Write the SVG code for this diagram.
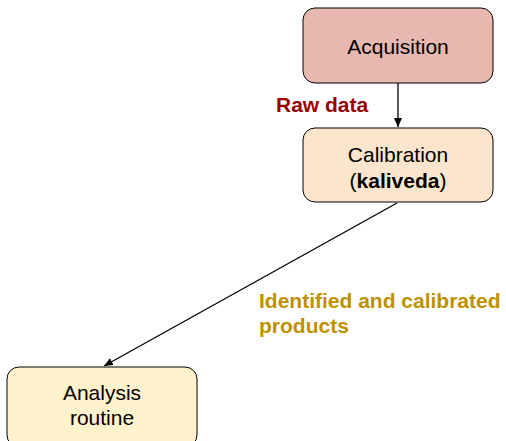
<svg xmlns="http://www.w3.org/2000/svg" width="506" height="441" viewBox="0 0 506 441">
<defs>
<marker id="ah" markerWidth="10" markerHeight="10" refX="9" refY="5" orient="auto" markerUnits="userSpaceOnUse">
<path d="M0,1 L9,5 L0,9 z" fill="#000"/>
</marker>
<style>
.box{stroke:#000;stroke-width:1}
.t{font-family:"Liberation Sans",Arial,sans-serif;font-size:21px;fill:#000;text-anchor:middle}
.lbl{font-family:"Liberation Sans",Arial,sans-serif;font-size:21px;font-weight:bold}
.edge{stroke:#000;stroke-width:1.3;fill:none;marker-end:url(#ah)}
</style>
</defs>
<rect width="506" height="441" fill="#fff"/>
<g id="connectors">
<line class="edge" x1="398" y1="83" x2="398" y2="127"/>
<line class="edge" x1="397" y1="203" x2="104" y2="366"/>
</g>
<g id="acquisition">
<rect class="box" x="303" y="8" width="190" height="75" rx="12" fill="#e6b8af"/>
<text class="t" x="398" y="54">Acquisition</text>
</g>
<g id="calibration">
<rect class="box" x="303" y="128" width="190" height="74" rx="12" fill="#fce5cd"/>
<text class="t" x="398" y="162">Calibration</text>
<text class="t" x="398" y="188">(<tspan font-weight="bold">kaliveda</tspan>)</text>
</g>
<g id="analysis">
<rect class="box" x="7" y="367" width="190" height="80" rx="12" fill="#fff2cc"/>
<text class="t" x="102" y="400">Analysis</text>
<text class="t" x="102" y="425">routine</text>
</g>
<text class="lbl" x="276" y="112" fill="#990000">Raw data</text>
<text class="lbl" x="259" y="308" fill="#bf9000">Identified and calibrated</text>
<text class="lbl" x="259" y="333" fill="#bf9000">products</text>
</svg>
